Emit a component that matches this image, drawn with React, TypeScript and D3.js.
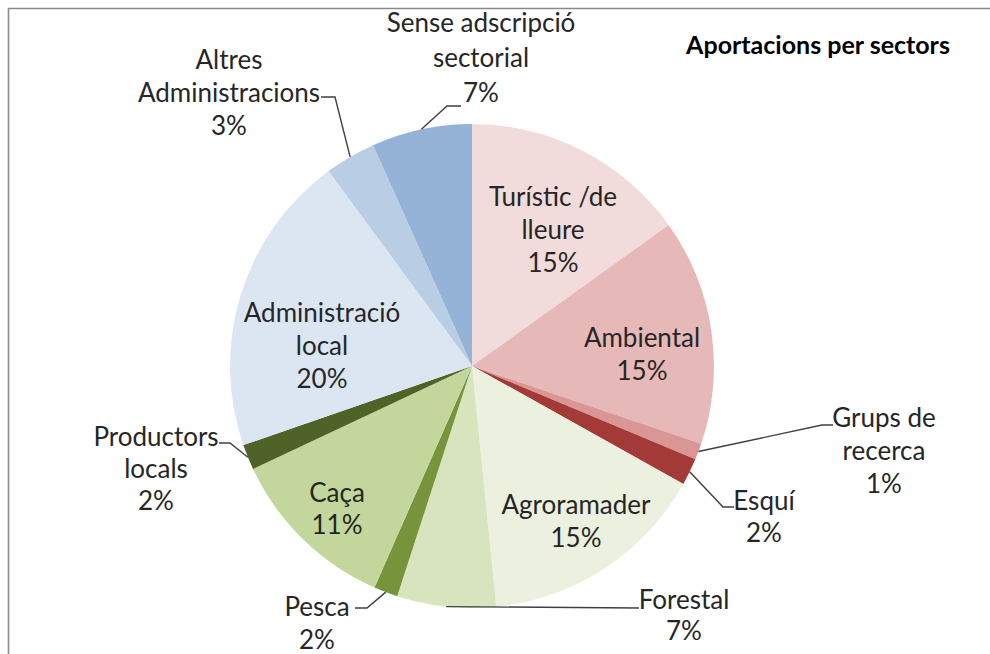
import React from "react";
import * as d3 from "d3";

const sectors = [
  "Turístic /de lleure",
  "Ambiental",
  "Grups de recerca",
  "Esquí",
  "Agroramader",
  "Forestal",
  "Pesca",
  "Caça",
  "Productors locals",
  "Administració local",
  "Altres Administracions",
  "Sense adscripció sectorial",
];
const values = [15.1, 15.1, 1.1, 1.8, 15.3, 6.6, 1.6, 11.4, 1.7, 20.2, 3.4, 6.7];
const colors = [
  "#F2DCDB", "#E6B9B8", "#D99694", "#A33A38",
  "#EBF1DE", "#D7E4BD", "#77933C", "#C3D69B", "#4F6228",
  "#DCE6F2", "#B9CDE5", "#95B3D7",
];
const labelLines = [
  ["Turístic /de", "lleure"],
  ["Ambiental"],
  ["Grups de", "recerca"],
  ["Esquí"],
  ["Agroramader"],
  ["Forestal"],
  ["Pesca"],
  ["Caça"],
  ["Productors", "locals"],
  ["Administració", "local"],
  ["Altres", "Administracions"],
  ["Sense adscripció", "sectorial"],
];
// layout: label center x, first line center y
const labelPos: [number, number][] = [
  [553, 197], [642, 338], [884, 418], [764, 501], [576, 505], [684, 600],
  [317, 607], [337, 493], [156, 437], [322, 313], [229, 60], [481, 23],
];
const lineGap = [33, 33, 33, 32, 33, 31, 33, 32, 32, 33, 33, 35];
// leader polylines: label-side points (edge point computed from arc)
const leaders: Record<number, [number, number][]> = {
  2: [[822, 425], [833, 425]],
  3: [[723, 507], [734, 507]],
  5: [[639, 608]],
  6: [[367, 608], [355, 608]],
  8: [[230, 443], [219, 443]],
  10: [[335, 97], [321, 97]],
  11: [[447, 106], [461, 106]],
};

const W = 990, H = 654;
const cx = 472, cy = 366, R = 242;
const FONT = "Lato, 'Open Sans', sans-serif";

export default function App() {
  const total = d3.sum(values);
  const pie = d3.pie<number>().sort(null).value((d) => d)(values);
  const arc = d3.arc<d3.PieArcDatum<number>>().innerRadius(0).outerRadius(R);
  const line = d3.line();
  return (
    <svg width={W} height={H} style={{ position: "absolute", left: 0, top: 0, background: "#fff" }}>
      <line x1={8} y1={8.5} x2={W} y2={8.5} stroke="#8a8a8a" strokeWidth={1.6} />
      <line x1={8.5} y1={8} x2={8.5} y2={H} stroke="#8a8a8a" strokeWidth={1.6} />
      <g transform={`translate(${cx},${cy})`}>
        {pie.map((p, i) => (
          <path key={i} d={arc(p) || ""} fill={colors[i]} />
        ))}
      </g>
      {pie.map((p, i) => {
        const pts = leaders[i];
        if (!pts) return null;
        const mid = (p.startAngle + p.endAngle) / 2;
        const edge: [number, number] = [cx + R * Math.sin(mid), cy - R * Math.cos(mid)];
        return (
          <path key={"l" + i} d={line([edge, ...pts]) || ""} fill="none" stroke="#404040" strokeWidth={1.4} />
        );
      })}
      {pie.map((p, i) => {
        const lines = [...labelLines[i], `${Math.round((values[i] / total) * 100)}%`];
        const [x, y] = labelPos[i];
        return (
          <text key={"t" + i} x={x} y={y} textAnchor="middle" fontFamily={FONT} fontSize={26} fill="#262626">
            {lines.map((s, k) => (
              <tspan key={k} x={x} y={y + k * lineGap[i]} dy="0.35em">{s}</tspan>
            ))}
          </text>
        );
      })}
      <text x={818} y={45} dy="0.35em" textAnchor="middle" fontFamily={FONT} fontWeight="bold" fontSize={25} fill="#000">
        Aportacions per sectors
      </text>
    </svg>
  );
}
